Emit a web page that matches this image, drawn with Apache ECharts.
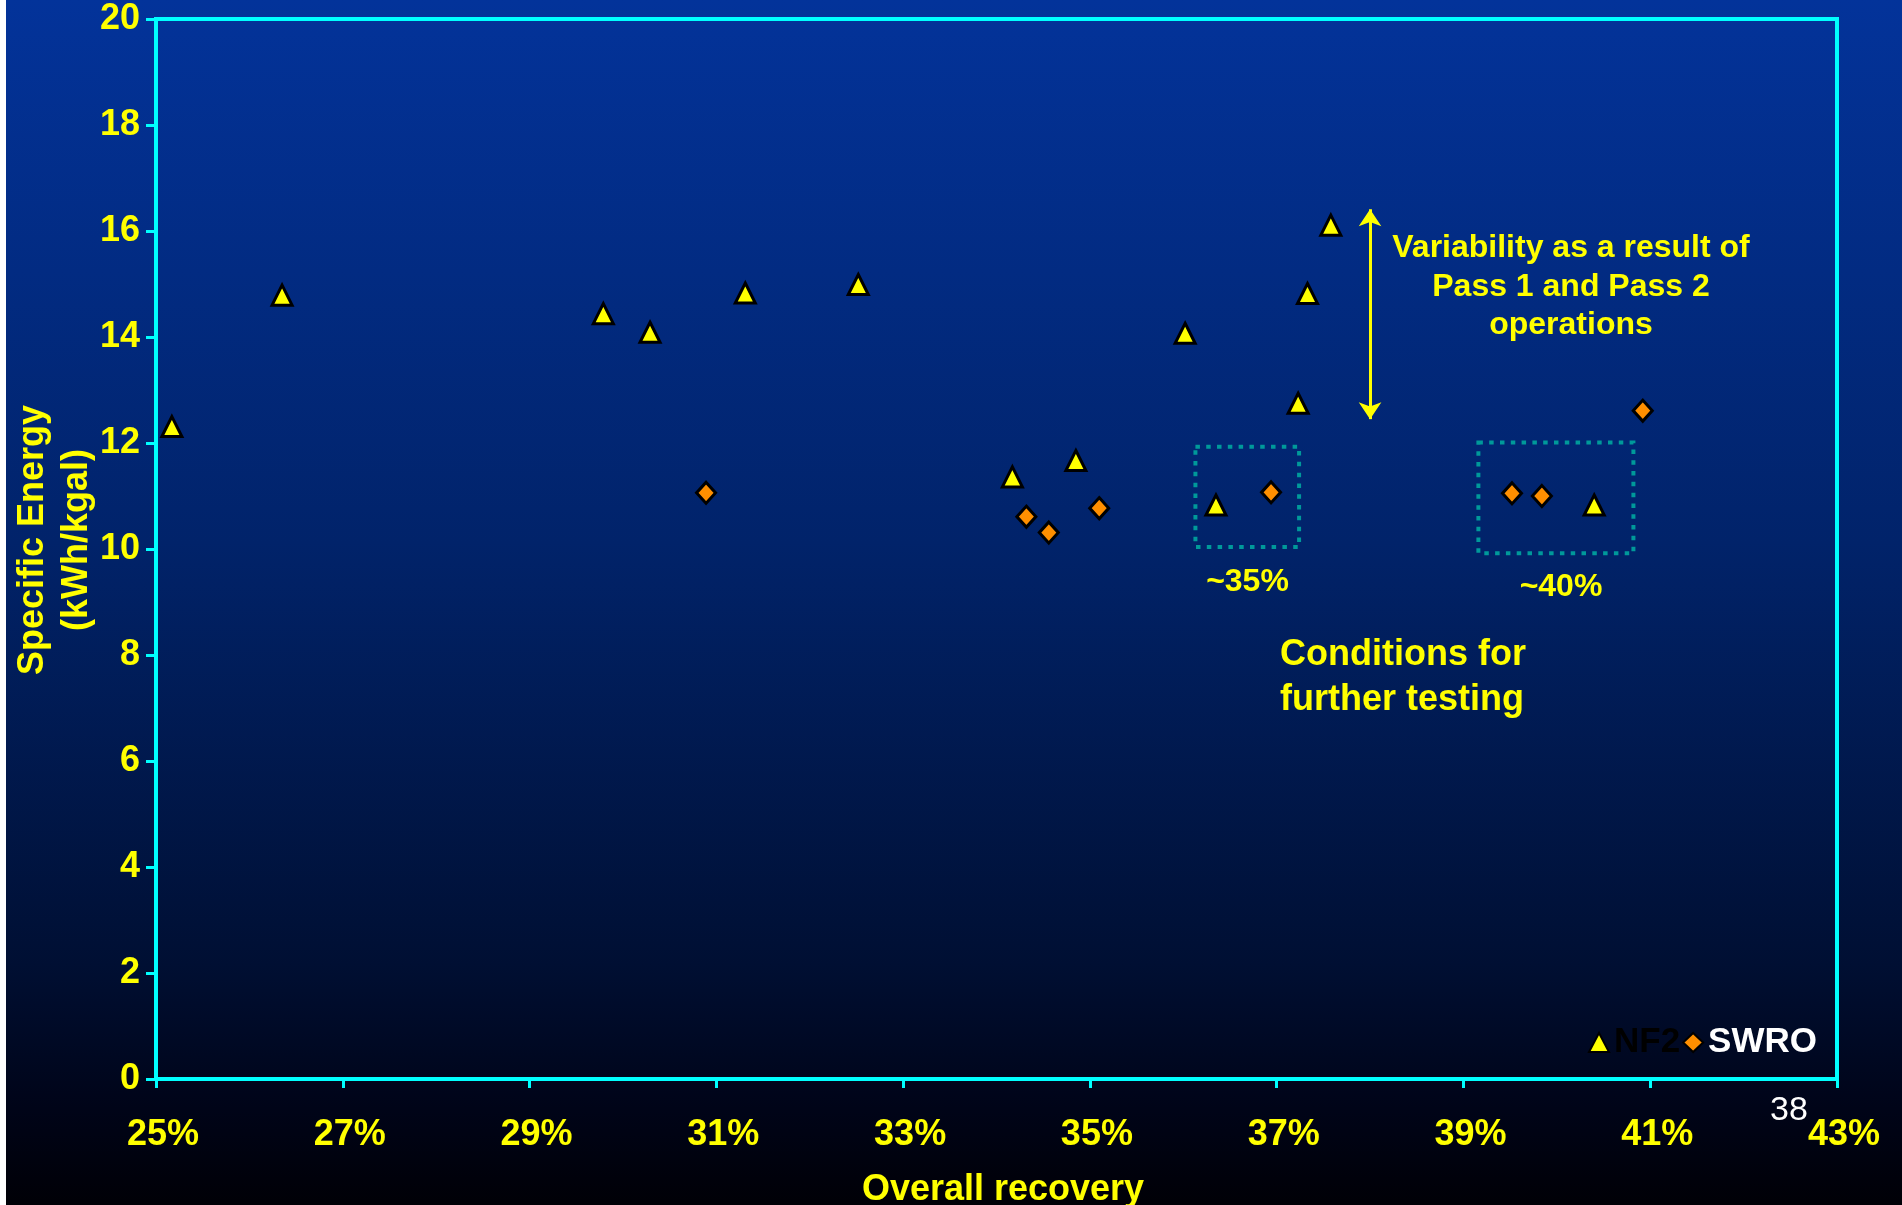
<!DOCTYPE html>
<html>
<head>
<meta charset="utf-8">
<script src="https://cdn.jsdelivr.net/npm/echarts@6/dist/echarts.min.js"></script>
<style>
  html, body { margin: 0; padding: 0; background: #ffffff; width: 1902px; height: 1205px; overflow: hidden; }
  #chart { position: absolute; left: 6px; top: 0; width: 1896px; height: 1205px; }
</style>
</head>
<body>
<div id="chart"></div>
<script>
// ---- data ----
const nf2Recovery = [25.17, 26.35, 29.79, 30.29, 31.31, 32.52, 34.17, 34.85, 36.02, 36.35, 37.23, 37.33, 37.58, 40.40];
const nf2Energy   = [12.31, 14.79, 14.44, 14.09, 14.83, 14.99, 11.36, 11.67, 14.07, 10.83, 12.75, 14.82, 16.11, 10.83];
const swroRecovery = [30.89, 34.32, 34.56, 35.10, 36.94, 39.52, 39.84, 40.92];
const swroEnergy   = [11.06, 10.61, 10.31, 10.77, 11.07, 11.05, 11.00, 12.61];
const xTickValues = [25, 27, 29, 31, 33, 35, 37, 39, 41, 43];
const seriesNames = ['NF2', 'SWRO'];
// annotation regions (data coordinates)
const variabilityRange = [16.41, 12.45];   // arrow at 38%
const box35 = [[36.13, 11.93], [37.24, 10.04]];
const box40 = [[39.16, 12.01], [40.82, 9.92]];

const FONT = '"Liberation Sans", Arial, Helvetica, sans-serif';
const YELLOW = '#ffff00';
const CYAN = '#00ffff';

const zip = (a, b) => a.map((v, i) => [v, b[i]]);

const chart = echarts.init(document.getElementById('chart'), null, { renderer: 'canvas' });

const option = {
  animation: false,
  backgroundColor: {
    type: 'linear', x: 0, y: 0, x2: 0, y2: 1,
    colorStops: [
      { offset: 0, color: '#03339a' },
      { offset: 0.45, color: '#01236a' },
      { offset: 0.8, color: '#000f33' },
      { offset: 0.92, color: '#000418' },
      { offset: 1, color: '#000006' }
    ]
  },
  grid: {
    left: 150, right: 65, top: 19, bottom: 126,
    containLabel: false, outerBoundsMode: 'none',
    show: true, borderColor: CYAN, borderWidth: 4, backgroundColor: 'transparent'
  },
  legend: {
    right: 85, top: 1025, orient: 'horizontal',
    itemWidth: 20, itemHeight: 19, itemGap: 2, padding: 0,
    textStyle: { fontSize: 35, fontWeight: 'bold', fontFamily: FONT },
    data: [
      { name: seriesNames[0], textStyle: { color: '#000000' } },
      { name: seriesNames[1], textStyle: { color: '#ffffff' } }
    ]
  },
  xAxis: {
    type: 'value', min: 25, max: 43,
    name: 'Overall recovery', nameLocation: 'middle', nameGap: 93, nameMoveOverlap: false,
    nameTextStyle: { color: YELLOW, fontSize: 36, fontWeight: 'bold', fontFamily: FONT, padding: [0, 0, 0, 13] },
    axisLine: { show: true, onZero: false, lineStyle: { color: CYAN, width: 4 } },
    axisTick: { show: true, length: 9, customValues: xTickValues, lineStyle: { color: CYAN, width: 3 } },
    axisLabel: {
      customValues: xTickValues, formatter: v => v + '%',
      color: YELLOW, fontSize: 36, fontWeight: 'bold', fontFamily: FONT, margin: 38,
      padding: [0, 0, 0, 14]
    },
    splitLine: { show: false }
  },
  yAxis: {
    type: 'value', min: 0, max: 20, interval: 2,
    name: 'Specific Energy\n(kWh/kgal)', nameLocation: 'middle', nameRotate: 90, nameGap: 57, nameMoveOverlap: false,
    nameTextStyle: { color: YELLOW, fontSize: 36, fontWeight: 'bold', fontFamily: FONT, lineHeight: 44, padding: [0, 0, 0, 18] },
    axisLine: { show: true, onZero: false, lineStyle: { color: CYAN, width: 4 } },
    axisTick: { show: true, length: 10, lineStyle: { color: CYAN, width: 3 } },
    axisLabel: { color: YELLOW, fontSize: 36, fontWeight: 'bold', fontFamily: FONT, margin: 16, padding: [8, 0, 0, 0] },
    splitLine: { show: false }
  },
  series: [
    {
      name: seriesNames[0], type: 'scatter', symbol: 'triangle', symbolSize: 20,
      itemStyle: { color: YELLOW, borderColor: '#000000', borderWidth: 3, opacity: 1 },
      emphasis: { disabled: true },
      data: zip(nf2Recovery, nf2Energy),
      z: 3,
      markLine: {
        silent: true, symbol: ['arrow', 'arrow'], symbolSize: 17,
        label: { show: false },
        lineStyle: { color: YELLOW, width: 3, type: 'solid' },
        data: [[{ coord: [38, variabilityRange[0]] }, { coord: [38, variabilityRange[1]] }]]
      }
    },
    {
      name: seriesNames[1], type: 'scatter', symbol: 'diamond', symbolSize: [19, 21],
      itemStyle: { color: '#ff8f00', borderColor: '#000000', borderWidth: 3, opacity: 1 },
      emphasis: { disabled: true },
      data: zip(swroRecovery, swroEnergy),
      z: 3,
      markArea: {
        silent: true,
        label: { show: false },
        itemStyle: { color: 'rgba(0,0,0,0)', borderColor: '#00999a', borderWidth: 4, borderType: [4.5, 6.3] },
        data: [
          [{ coord: box35[0] }, { coord: box35[1] }],
          [{ coord: box40[0] }, { coord: box40[1] }]
        ]
      }
    }
  ],
  graphic: [
    { type: 'text', x: 1565, y: 229, silent: true,
      style: { text: 'Variability as a result of\nPass 1 and Pass 2\noperations', fill: YELLOW,
        fontSize: 32, fontWeight: 'bold', fontFamily: FONT, lineHeight: 38.5, align: 'center', verticalAlign: 'top' } },
    { type: 'text', x: 1241.5, y: 581.7, silent: true,
      style: { text: '~35%', fill: YELLOW, fontSize: 32, fontWeight: 'bold', fontFamily: FONT, align: 'center', verticalAlign: 'middle' } },
    { type: 'text', x: 1555, y: 586.7, silent: true,
      style: { text: '~40%', fill: YELLOW, fontSize: 32, fontWeight: 'bold', fontFamily: FONT, align: 'center', verticalAlign: 'middle' } },
    { type: 'text', x: 1274, y: 632.5, silent: true,
      style: { text: 'Conditions for\nfurther testing', fill: YELLOW, fontSize: 36, fontWeight: 'bold', fontFamily: FONT,
        lineHeight: 45, align: 'left', verticalAlign: 'top' } },
    { type: 'text', x: 1783, y: 1110.5, silent: true,
      style: { text: '38', fill: '#ffffff', fontSize: 34, fontWeight: 'normal', fontFamily: FONT, align: 'center', verticalAlign: 'middle' } }
  ]
};
chart.setOption(option);
</script>
</body>
</html>
